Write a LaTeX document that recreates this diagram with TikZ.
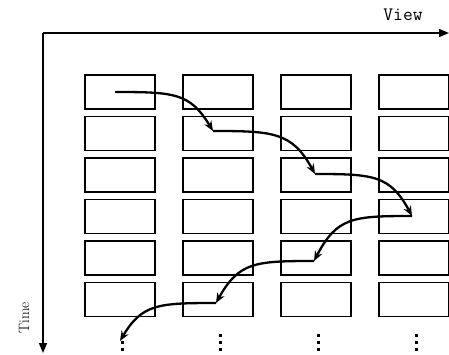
\documentclass[tikz,border=0pt]{standalone}
\usepackage{fontspec}
\usetikzlibrary{arrows.meta}
\begin{document}
\begin{tikzpicture}[x=1pt,y=-1pt,
  frame/.style={draw, line width=1.6pt, minimum width=70pt, minimum height=34pt,
                inner sep=0pt, anchor=north west},
  axis/.style={line width=1.5pt, -{Triangle[length=10pt,width=8pt]}},
  hop/.style={line width=2.3pt, -{Stealth[length=10pt,width=8pt]}},
  vdot/.style={fill=black},
  ]
\useasboundingbox (0,0) rectangle (449,354);

% axes
\coordinate (origin) at (43,33);
\coordinate (viewend) at (449,33);
\coordinate (timeend) at (43,353);
\draw[axis] (origin) -- (viewend);
\draw[axis] (origin) -- (timeend);
\node (view) at (403,15) {\ttfamily\fontsize{19}{19}\selectfont View};
\node[rotate=90] (time) at (24,318) {\fontsize{15}{15}\selectfont Time};

% grid of frames: rows are time steps, columns are views
\foreach \r in {1,...,6}
  \foreach \c in {1,...,4}
    \node[frame] (b\r\c) at ({84+98*(\c-1)}, {74+41.5*(\r-1)}) {};

% continuation dots below each column
\foreach \c in {1,...,4}
  \foreach \yy in {335,342,349}
    \fill[vdot] ({119+98*(\c-1)+3-1.5}, {\yy-1.5}) rectangle ++(3,3);

% zig-zag scan through the frames
\coordinate (hop0) at (115,92);
\coordinate (hop1) at (213,131);
\coordinate (hop2) at (315,174);
\coordinate (hop3) at (412,216);
\coordinate (hop4) at (314,261);
\coordinate (hop5) at (216,303);
\coordinate (hop6) at (120,341);
\draw[hop] (hop0) .. controls (175,92) and (190,93) .. (hop1);
\draw[hop] (hop1) .. controls (273,131) and (292,132) .. (hop2);
\draw[hop] (hop2) .. controls (373,174) and (390,175) .. (hop3);
\draw[hop] (hop3) .. controls (353,216) and (337,217) .. (hop4);
\draw[hop] (hop4) .. controls (255,261) and (239,262) .. (hop5);
\draw[hop] (hop5) .. controls (158,303) and (142,304) .. (hop6);
\end{tikzpicture}
\end{document}
